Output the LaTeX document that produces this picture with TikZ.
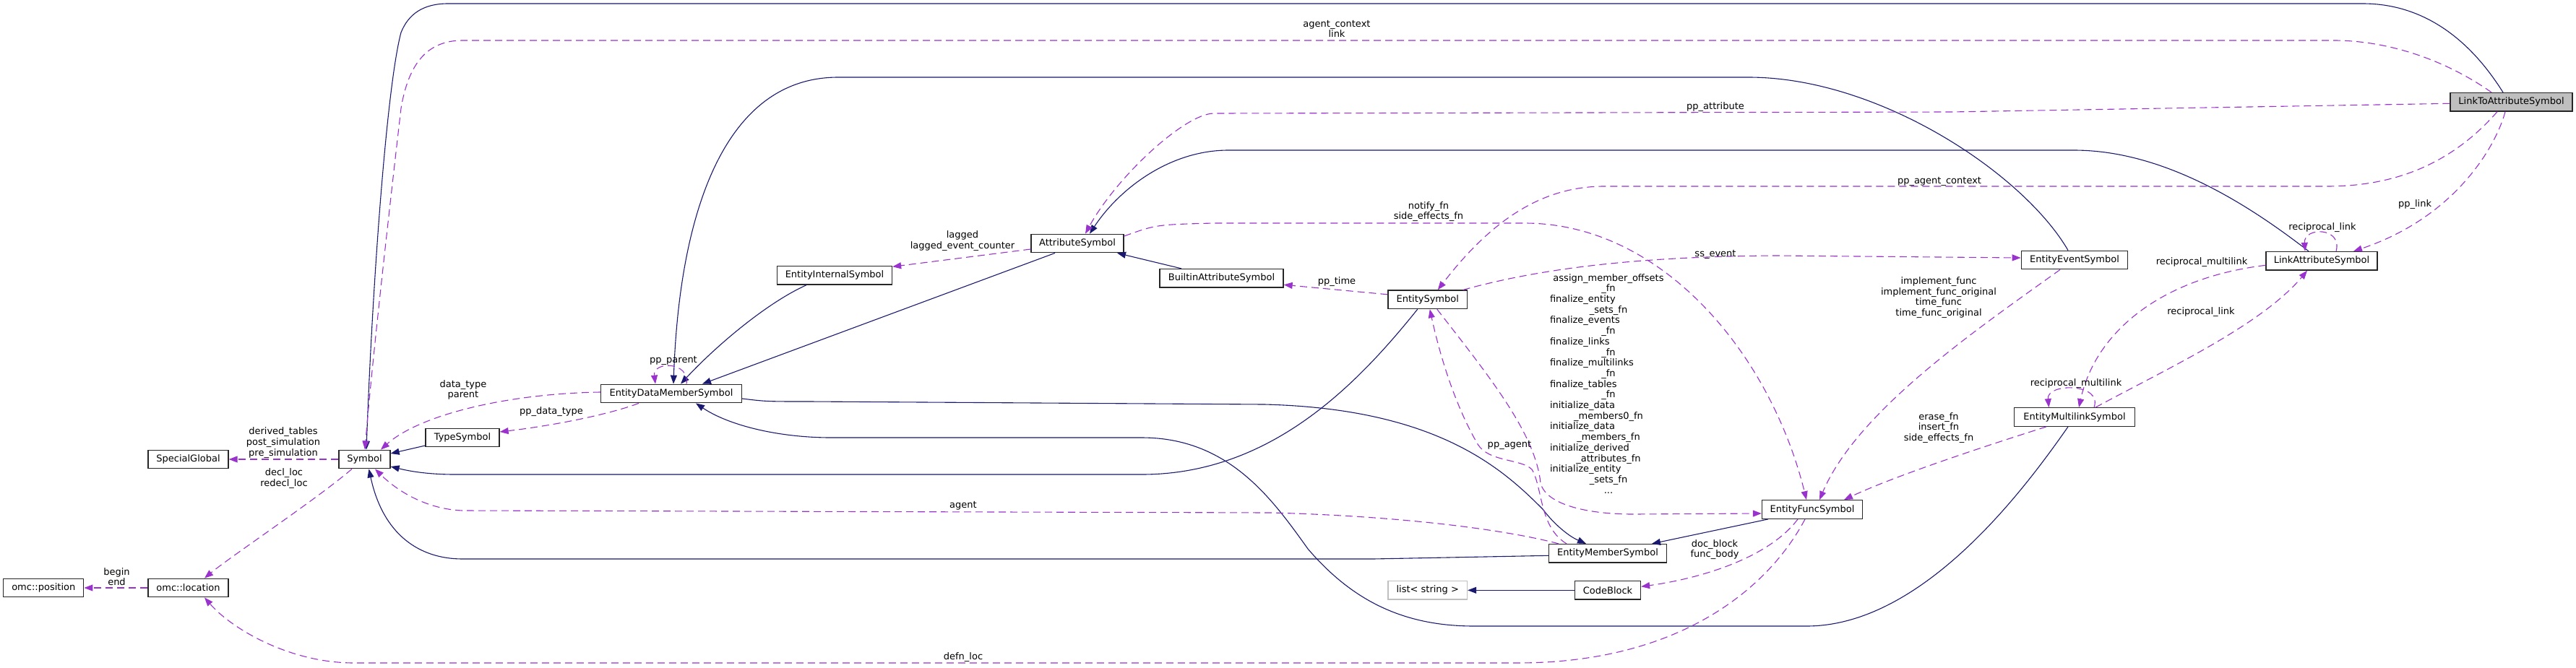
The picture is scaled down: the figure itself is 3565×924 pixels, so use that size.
\documentclass[tikz,border=0pt]{standalone}
\usepackage{fontspec}
\setmainfont{DejaVu Sans}
\usetikzlibrary{arrows.meta,calc}
\definecolor{navyc}{HTML}{191970}
\definecolor{orchc}{HTML}{9A32CD}
\definecolor{boxgray}{HTML}{BFBFBF}
\newcommand\gvfont{\fontsize{13}{14.7}\selectfont}
\newcommand\cntline[1]{\makebox[162pt][c]{#1}}
\newcommand\lftline[1]{\makebox[162pt][l]{#1}}
\begin{document}
\begin{tikzpicture}[x=1pt,y=-1pt,
  box/.style={draw=black!85, line width=1.3pt, fill=white, rectangle, minimum height=25.5pt, inner sep=0pt, font=\gvfont},
  lbl/.style={inner sep=0pt, font=\gvfont, align=center},
  inh/.style={draw=navyc, line width=1.1pt, -{Triangle[length=12pt,width=9pt]}},
  use/.style={draw=orchc, line width=1.1pt, dash pattern=on 10pt off 6pt, -{Triangle[length=12pt,width=9pt]}}]
\useasboundingbox (0,0) rectangle (3565,924);

% ---------- nodes ----------
\node[box, minimum width=169pt, fill=boxgray] (LTAS) at (3475.5,141.3) {LinkToAttributeSymbol};
\node[box, minimum width=154pt] (LinkAttr) at (3213,361.3) {LinkAttributeSymbol};
\node[box, minimum width=147.5pt] (EEvS) at (2871,360) {EntityEventSymbol};
\node[box, minimum width=166.5pt] (EML) at (2871,577.5) {EntityMultilinkSymbol};
\node[box, minimum width=139pt] (EFS) at (2508,705.5) {EntityFuncSymbol};
\node[box, minimum width=162.5pt] (EMS) at (2225,766.3) {EntityMemberSymbol};
\node[box, minimum width=91pt] (CodeBlock) at (2225,817.3) {CodeBlock};
\node[box, minimum width=109.5pt, draw=boxgray] (List) at (1975.75,817.3) {list< string >};
\node[box, minimum width=109.5pt] (EntitySymbol) at (1975.75,414.8) {EntitySymbol};
\node[box, minimum width=171pt] (Builtin) at (1690.5,385.3) {BuiltinAttributeSymbol};
\node[box, minimum width=128pt] (Attr) at (1491,337) {AttributeSymbol};
\node[box, minimum width=159pt] (EIS) at (1155,381.3) {EntityInternalSymbol};
\node[box, minimum width=195pt] (EDMS) at (929,545) {EntityDataMemberSymbol};
\node[box, minimum width=102pt] (TypeSymbol) at (640,606) {TypeSymbol};
\node[box, minimum width=71pt] (Symbol) at (504.5,636) {Symbol};
\node[box, minimum width=111pt] (SpecialGlobal) at (260.5,636) {SpecialGlobal};
\node[box, minimum width=111pt] (Location) at (260.5,814) {omc::location};
\node[box, minimum width=111pt] (Position) at (60.3,814) {omc::position};

% ---------- inheritance (solid navy) ----------
\draw[inh] ($(LTAS.north)+(-11.5,0)$) .. controls (3440,90) and (3380,5) .. (3270,5) -- (620,5) .. controls (585,5) and (565,20) .. (555,45) .. controls (535,120) and (515,400) .. ($(Symbol.north)+(2.5,0)$);
\draw[inh] ($(EEvS.north)+(-9,0)$) .. controls (2800,240) and (2600,107) .. (2420,107) -- (1160,107) .. controls (1000,107) and (940,300) .. ($(EDMS.north)+(3,0)$);
\draw[inh] ($(LinkAttr.north)+(-18,0)$) .. controls (3120,290) and (3000,208) .. (2870,208) -- (1700,208) .. controls (1620,208) and (1550,260) .. ($(Attr.north)+(17,0)$);
\draw[inh] ($(Attr.south)+(-31,0)$) -- ($(EDMS.north)+(43,0)$);
\draw[inh] ($(EIS.south)+(-39,0)$) .. controls (1060,420) and (990,480) .. ($(EDMS.north)+(13,0)$);
\draw[inh] ($(Builtin.north)+(-55.5,0)$) -- ($(Attr.south)+(55,0)$);
\draw[inh] ($(TypeSymbol.west)+(0,11)$) -- ($(Symbol.east)+(0,-8)$);
\draw[inh] ($(EntitySymbol.south)+(-14,0)$) .. controls (1880,530) and (1760,657) .. (1580,657) -- (630,657) .. controls (590,657) and (565,652) .. ($(Symbol.east)+(0,10)$);
\draw[inh] ($(EMS.west)+(0,3)$) -- (1900,774) -- (640,774) .. controls (580,774) and (530,740) .. ($(Symbol.south)+(6,0)$);
\draw[inh] ($(EDMS.east)+(0,7)$) .. controls (1060,556) .. (1120,556) -- (1750,560) .. controls (1990,566) and (2080,650) .. (2135,705) .. controls (2150,725) and (2170,742) .. ($(EMS.north)+(-30,0)$);
\draw[inh] ($(EML.south)+(-9,0)$) .. controls (2800,680) and (2660,867) .. (2500,867) -- (2040,867) .. controls (1940,867) and (1870,830) .. (1810,760) .. controls (1760,690) and (1700,606) .. (1580,606) -- (1150,606) .. controls (1080,606) and (1010,590) .. ($(EDMS.south)+(34,0)$);
\draw[inh] ($(EFS.south)+(-61,0)$) -- ($(EMS.north)+(61,0)$);
\draw[inh] (CodeBlock.west) -- (List.east);

% ---------- usage (dashed purple) ----------
\draw[use] ($(LTAS.north)+(-27.5,0)$) .. controls (3380,80) and (3300,56) .. (3230,56) -- (640,56) .. controls (590,56) and (565,90) .. (555,150) .. controls (540,280) and (515,500) .. ($(Symbol.north)+(0.5,0)$);
\draw[use] ($(LTAS.west)+(0,2)$) -- (2700,155) -- (1680,157) .. controls (1640,157) and (1545,245) .. ($(Attr.north)+(11,0)$);
\draw[use] ($(LTAS.south)+(-19.5,0)$) .. controls (3390,230) and (3310,258) .. (3220,258) -- (2220,258) .. controls (2130,258) and (2060,310) .. ($(EntitySymbol.north)+(14,0)$);
\draw[use] ($(LTAS.south)+(-8.5,0)$) .. controls (3455,200) and (3400,300) .. ($(LinkAttr.north)+(44,0)$);
\draw[use] ($(LinkAttr.north)+(20,0)$) .. controls (3242,314) and (3188,314) .. ($(LinkAttr.north)+(-23,0)$);
\draw[use] ($(LinkAttr.west)+(0,6)$) .. controls (2990,385) and (2900,460) .. ($(EML.north)+(6,0)$);
\draw[use] ($(EML.north)+(29,0)$) .. controls (3000,510) and (3130,450) .. ($(LinkAttr.south)+(-20,0)$);
\draw[use] ($(EML.north)+(27,0)$) .. controls (2910,530) and (2832,530) .. ($(EML.north)+(-35.5,0)$);
\draw[use] ($(EEvS.south)+(-20,0)$) .. controls (2730,460) and (2570,570) .. ($(EFS.north)+(10,0)$);
\draw[use] ($(EML.south)+(-39,0)$) .. controls (2740,620) and (2620,660) .. ($(EFS.north)+(44,0)$);
\draw[use] ($(EntitySymbol.north)+(49,0)$) .. controls (2120,375) and (2250,355) .. (2460,354) -- ($(EEvS.west)+(0,-3)$);
\draw[use] ($(Attr.east)+(0,-10)$) .. controls (1600,311) .. (1680,309) -- (2110,309) .. controls (2300,309) and (2450,490) .. ($(EFS.north)+(-8,0)$);
\draw[use] ($(EntitySymbol.south)+(13,0)$) .. controls (2060,520) and (2125,600) .. (2132,669) .. controls (2140,700) and (2200,712) .. (2260,712) -- ($(EFS.west)+(0,5.5)$);
\draw[use] ($(EMS.north)+(-57,0)$) .. controls (2130,730) and (2135,675) .. (2120,650) .. controls (2105,635) and (2060,640) .. (2045,615) .. controls (2010,555) and (1990,480) .. ($(EntitySymbol.south)+(3,0)$);
\draw[use] ($(EMS.north)+(-68,0)$) .. controls (2090,735) and (1950,715) .. (1760,710) -- (640,707) .. controls (590,705) and (550,680) .. ($(Symbol.south)+(14.5,0)$);
\draw[use] ($(EFS.south)+(-10,0)$) .. controls (2450,810) and (2330,918) .. (2100,918) -- (490,918) .. controls (400,918) and (320,870) .. ($(Location.south)+(22.5,0)$);
\draw[use] ($(EFS.south)+(-20,0)$) .. controls (2450,770) and (2360,800) .. ($(CodeBlock.east)+(0,-5)$);
\draw[use] ($(EntitySymbol.west)+(0,-7)$) -- ($(Builtin.east)+(0,9)$);
\draw[use] ($(Attr.west)+(0,8)$) -- ($(EIS.east)+(0,-12)$);
\draw[use] ($(EDMS.north)+(21,0)$) .. controls (955,500) and (903,500) .. ($(EDMS.north)+(-22,0)$);
\draw[use] ($(EDMS.west)+(0,-2)$) .. controls (700,545) and (580,575) .. ($(Symbol.north)+(22.5,0)$);
\draw[use] ($(EDMS.south)+(-45,0)$) .. controls (840,575) and (760,590) .. ($(TypeSymbol.east)+(0,-8)$);
\draw[use] (Symbol.west) -- (SpecialGlobal.east);
\draw[use] ($(Symbol.south)+(-17.5,0)$) .. controls (440,690) and (320,770) .. ($(Location.north)+(22.5,0)$);
\draw[use] (Location.west) -- (Position.east);

% ---------- labels ----------
\node[lbl] (l1) at (1850,40) {agent\_context\\link};
\node[lbl] (l2) at (2374,148.5) {pp\_attribute};
\node[lbl] (l3) at (2684,251) {pp\_agent\_context};
\node[lbl] (l4) at (3342,283.4) {pp\_link};
\node[lbl] (l5) at (3214,315) {reciprocal\_link};
\node[lbl] (l6) at (3047,363) {reciprocal\_multilink};
\node[lbl] (l7) at (3046,432.5) {reciprocal\_link};
\node[lbl] (l8) at (2873,531.5) {reciprocal\_multilink};
\node[lbl] (l9) at (2683,412) {implement\_func\\implement\_func\_original\\time\_func\\time\_func\_original};
\node[lbl] (l10) at (2683,592.5) {erase\_fn\\insert\_fn\\side\_effects\_fn};
\node[lbl] (l11) at (1977,293) {notify\_fn\\side\_effects\_fn};
\node[lbl] (l12) at (2374,352) {ss\_event};
\node[lbl] (l13) at (1850,390) {pp\_time};
\node[lbl, align=left] (l14) at (2226,531.2) {\cntline{assign\_member\_offsets}\\\cntline{\_fn}\\\lftline{finalize\_entity}\\\cntline{\_sets\_fn}\\\lftline{finalize\_events}\\\cntline{\_fn}\\\lftline{finalize\_links}\\\cntline{\_fn}\\\lftline{finalize\_multilinks}\\\cntline{\_fn}\\\lftline{finalize\_tables}\\\cntline{\_fn}\\\lftline{initialize\_data}\\\cntline{\_members0\_fn}\\\lftline{initialize\_data}\\\cntline{\_members\_fn}\\\lftline{initialize\_derived}\\\cntline{\_attributes\_fn}\\\lftline{initialize\_entity}\\\cntline{\_sets\_fn}\\\cntline{...}};
\node[lbl] (l15) at (2089,616) {pp\_agent};
\node[lbl] (l16) at (2373,761) {doc\_block\\func\_body};
\node[lbl] (l17) at (1332,333.5) {lagged\\lagged\_event\_counter};
\node[lbl] (l18) at (932,499) {pp\_parent};
\node[lbl] (l19) at (641,540) {data\_type\\parent};
\node[lbl] (l20) at (763,570.4) {pp\_data\_type};
\node[lbl] (l21) at (392,613) {derived\_tables\\post\_simulation\\pre\_simulation};
\node[lbl] (l22) at (393,662.5) {decl\_loc\\redecl\_loc};
\node[lbl] (l23) at (161.5,798.7) {begin\\end};
\node[lbl] (l24) at (1333,700) {agent};
\node[lbl] (l25) at (1333,910.4) {defn\_loc};
\end{tikzpicture}
\end{document}
